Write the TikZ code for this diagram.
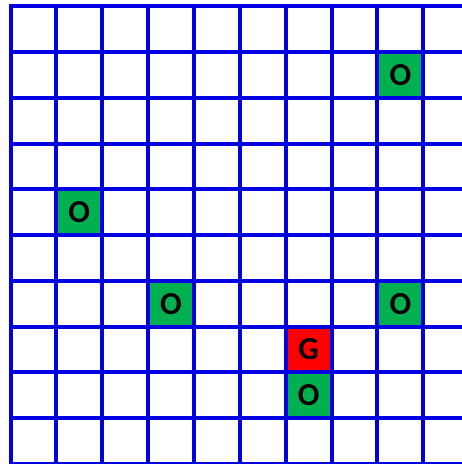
\documentclass[tikz,border=0pt]{standalone}
\usepackage{fontspec}
\setmainfont{Carlito}[BoldFont={Carlito Bold}]
\usepackage{xcolor}
\definecolor{gridblue}{RGB}{0,0,225}
\definecolor{obstgreen}{RGB}{0,176,80}
\definecolor{goalred}{RGB}{255,0,0}

\begin{document}
\begin{tikzpicture}[x={(34.4pt,0pt)}, y={(0pt,-34.3pt)}, baseline=0cm,
  obst/.style={fill=obstgreen,minimum size=34.3pt,inner sep=0pt,font=\bfseries\fontsize{24}{24}\selectfont},
  goal/.style={obst,fill=goalred},
  gridline/.style={draw=gridblue,line width=3pt,line cap=rect}]
  \useasboundingbox (-0.229,-0.142) rectangle (9.843,10.005);

  % Nodes
  \node[obst] (O1) at (8.5,1.5) {O};
  \node[obst] (O2) at (1.5,4.5) {O};
  \node[obst] (O3) at (3.5,6.5) {O};
  \node[obst] (O4) at (8.5,6.5) {O};
  \node[obst] (O5) at (6.5,8.5) {O};
  \node[goal] (G) at (6.5,7.5) {G};

  % Grid
  \clip (-0.229,-0.142) rectangle (9.843,10.005);
  \foreach \i in {0,...,10} {
    \draw[gridline] (\i,0) -- (\i,10);
    \draw[gridline] (0,\i) -- (10,\i);
  }
\end{tikzpicture}
\end{document}
